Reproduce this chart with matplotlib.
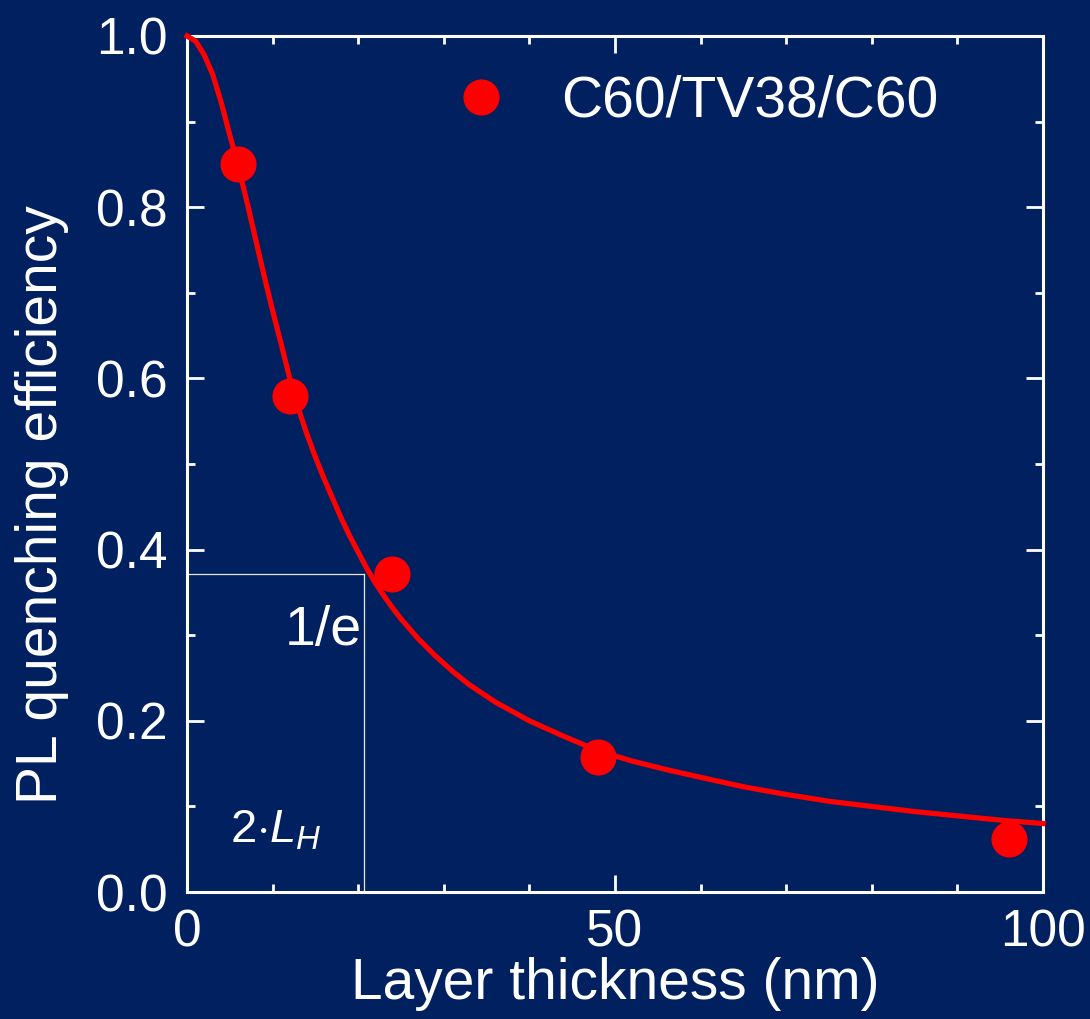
import matplotlib
matplotlib.use('Agg')
import matplotlib.pyplot as plt
from matplotlib.ticker import MultipleLocator

# measured points
thickness = [6, 12, 24, 48, 96]
quench = [0.85, 0.58, 0.372, 0.158, 0.062]

# fit curve
fit_x = [0, 1, 2, 3, 4, 5, 6, 7, 8, 9, 10, 11, 12, 13, 14, 15, 16, 17, 18, 19,
         20, 21, 22, 23, 24, 25, 27, 29, 31, 33, 36, 40, 44, 48, 52, 56, 60, 65,
         70, 75, 80, 85, 90, 95, 100]
fit_y = [1.000, 0.994, 0.978, 0.955, 0.922, 0.884, 0.847, 0.806, 0.763, 0.720,
         0.679, 0.640, 0.600, 0.565, 0.535, 0.508, 0.483, 0.460, 0.437, 0.416,
         0.397, 0.378, 0.361, 0.346, 0.332, 0.319, 0.296, 0.276, 0.258, 0.242,
         0.222, 0.200, 0.182, 0.165, 0.153, 0.143, 0.134, 0.123, 0.114, 0.106,
         0.100, 0.094, 0.089, 0.084, 0.080]

# 1/e guide
le_x = 20.7
le_y = 0.372

bg = '#002060'
plt.rcParams['font.family'] = ['Liberation Sans', 'DejaVu Sans']
plt.rcParams['mathtext.fontset'] = 'custom'
plt.rcParams['mathtext.rm'] = 'Liberation Sans'
plt.rcParams['mathtext.it'] = 'Liberation Sans:italic'

fig = plt.figure(figsize=(10.9, 10.19), dpi=100, facecolor=bg)
ax = fig.add_axes([0.1716, 0.1246, 0.7853, 0.8401], facecolor=bg)

ax.plot(fit_x, fit_y, color='#ff0000', lw=3.8, clip_on=False, zorder=3,
        solid_joinstyle='round')
ax.plot(thickness, quench, 'o', color='#ff0000', ms=25, zorder=4,
        label='C60/TV38/C60', clip_on=False)

# guide lines
ax.plot([0, le_x], [le_y, le_y], color='#e8e8e8', lw=0.9, zorder=2)
ax.plot([le_x, le_x], [0, le_y], color='#e8e8e8', lw=0.9, zorder=2)
ax.text(le_x - 0.3, 0.288, '1/e', color='white', fontsize=40, ha='right', va='baseline')
ax.text(5.0, 0.058, r'$\mathit{2{\cdot}L_H}$', color='white', fontsize=34,
        ha='left', va='baseline')

ax.set_xlim(0, 100)
ax.set_ylim(0, 1.0)
ax.xaxis.set_major_locator(MultipleLocator(50))
ax.xaxis.set_minor_locator(MultipleLocator(10))
ax.yaxis.set_major_locator(MultipleLocator(0.2))
ax.yaxis.set_minor_locator(MultipleLocator(0.1))
ax.yaxis.set_major_formatter(matplotlib.ticker.FormatStrFormatter('%.1f'))

for s in ax.spines.values():
    s.set_color('white')
    s.set_linewidth(2.2)
ax.tick_params(which='both', direction='in', top=True, right=True, colors='white',
               width=2.0, labelsize=37)
ax.tick_params(which='major', length=12)
ax.tick_params(which='minor', length=6)
ax.tick_params(axis='y', pad=14)
ax.tick_params(axis='x', pad=12)

ax.set_xlabel('Layer thickness (nm)', fontsize=41, color='white')
ax.set_ylabel('PL quenching efficiency', fontsize=41, color='white')
ax.xaxis.set_label_coords(0.5, -0.076)
ax.yaxis.set_label_coords(-0.138, 0.452)

leg = ax.legend(loc='center left', bbox_to_anchor=(0.284, 0.923), frameon=False,
                fontsize=41, handlelength=1.0, handletextpad=0.9, borderaxespad=0,
                numpoints=1)
for t in leg.get_texts():
    t.set_color('white')

fig.savefig('out.png', dpi=100, facecolor=bg)
